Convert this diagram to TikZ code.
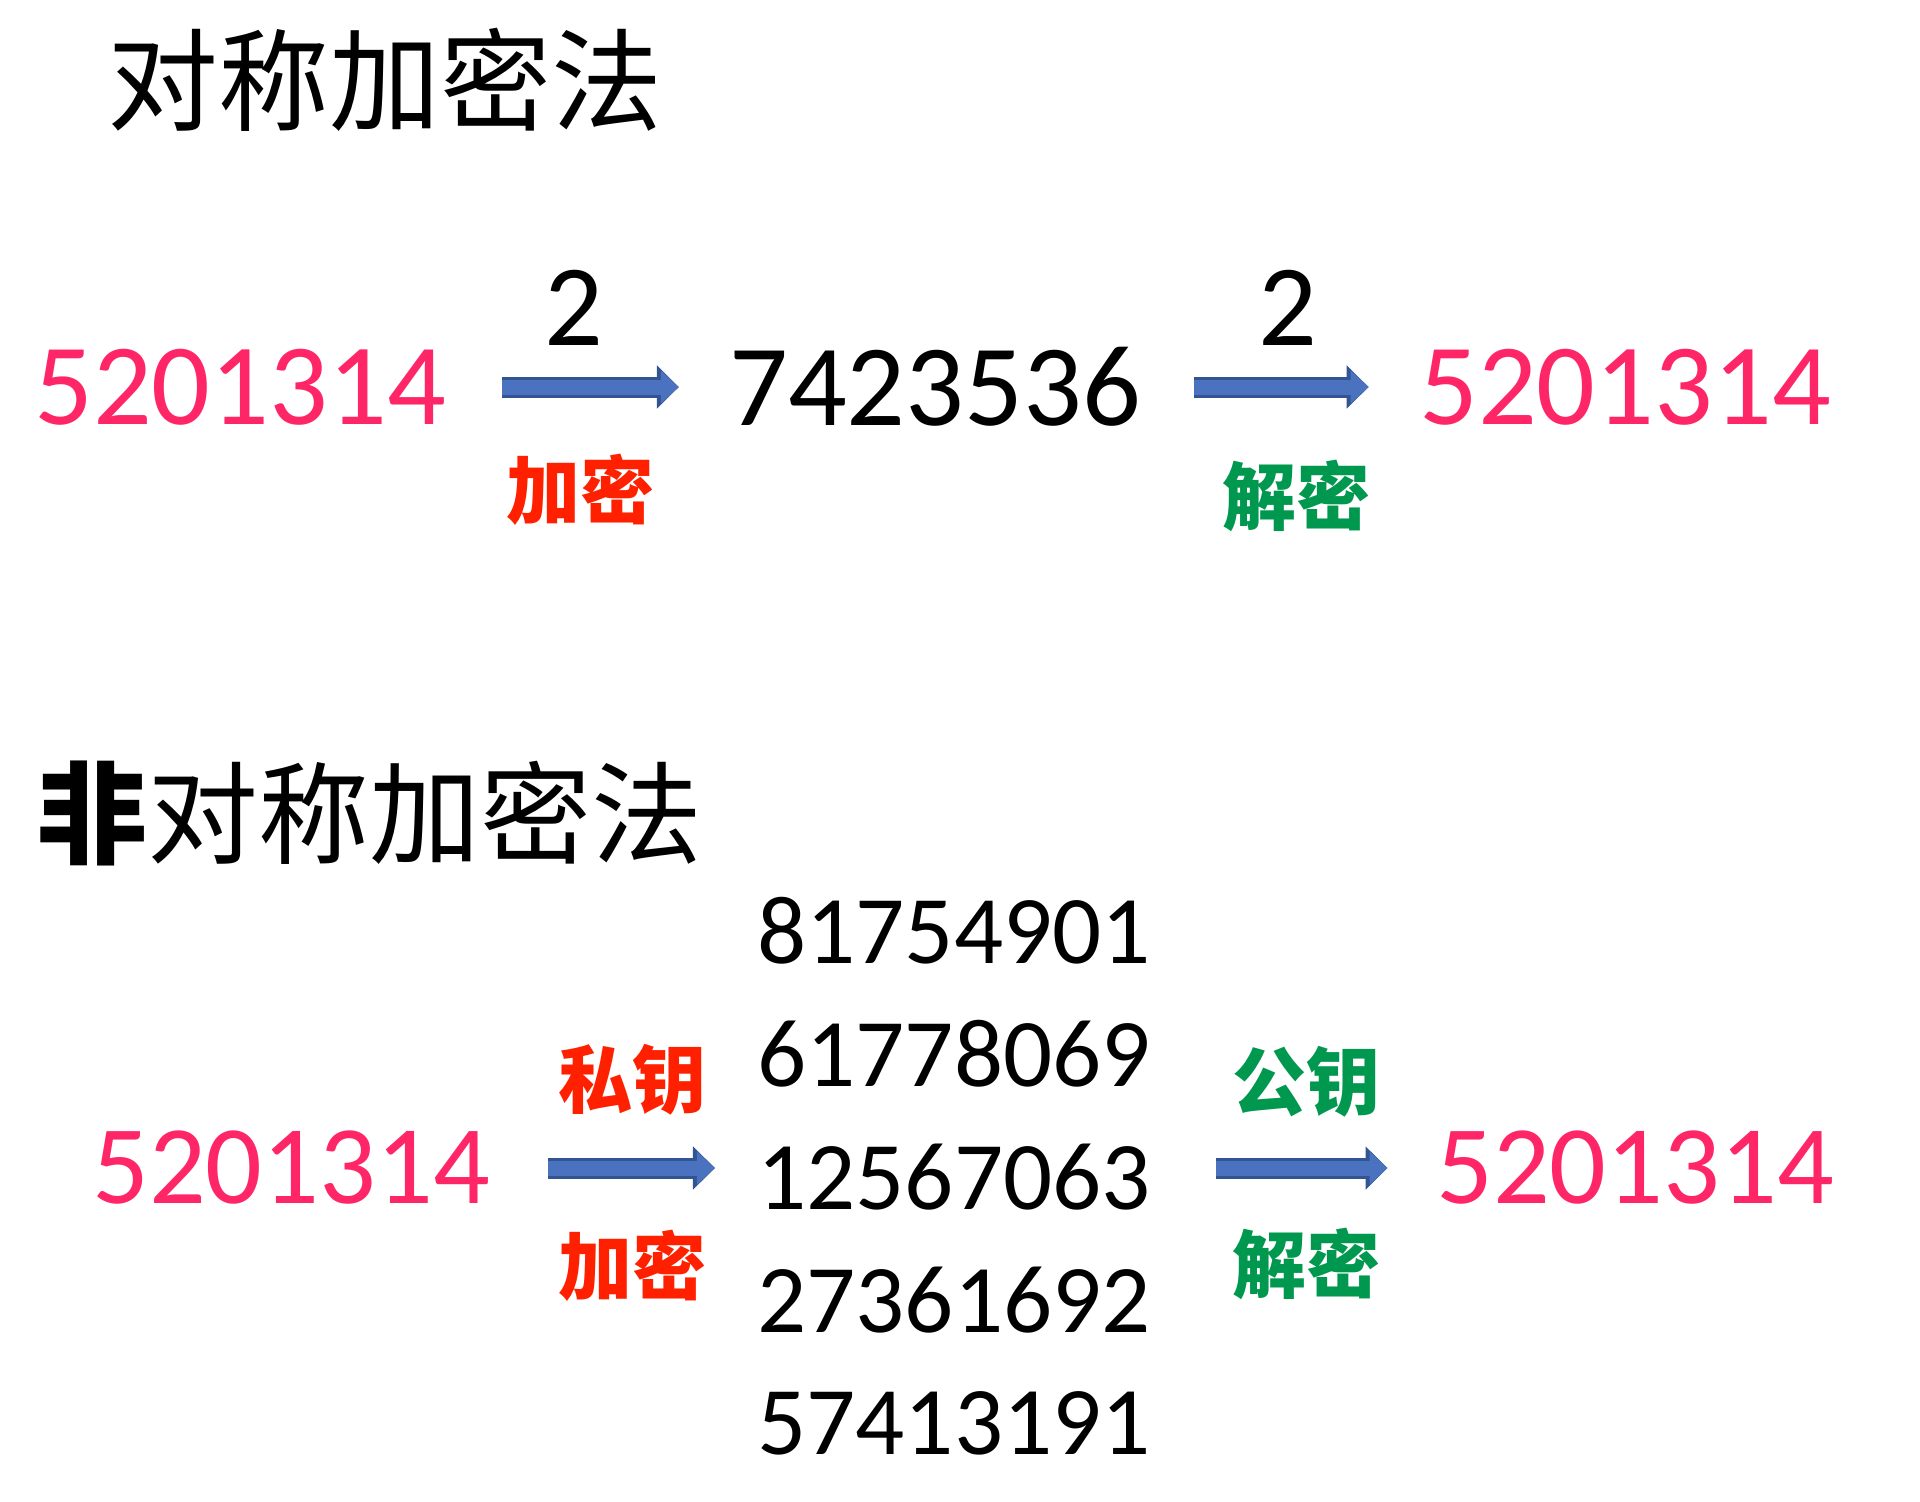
\documentclass[tikz,border=0pt]{standalone}
\usepackage{fontspec}
\setmainfont{Carlito}
\newfontfamily\cjk{Noto Sans CJK SC}
\usetikzlibrary{arrows.meta, positioning}
\definecolor{plainpink}{RGB}{255, 38, 104}
\definecolor{encred}{RGB}{255, 32, 0}
\definecolor{decgreen}{RGB}{0, 152, 78}
\definecolor{arrowblue}{RGB}{74, 114, 190}
\definecolor{arrowedge}{RGB}{50, 84, 146}

\begin{document}
\begin{tikzpicture}[x=0.5pt, y=-0.5pt,
  numtext/.style={inner sep=0pt, font=\fontsize{58}{58}\selectfont},
  listtext/.style={inner sep=0pt, font=\fontsize{48.5}{48.5}\selectfont},
  keytext/.style={inner sep=0pt, font=\cjk\bfseries\fontsize{37}{37}\selectfont},
  titletext/.style={inner sep=0pt, font=\cjk\fontsize{55.5}{55.5}\selectfont},
  blockarrow/.style={draw=arrowblue, line width=7.5pt, -{Triangle[length=9pt, width=16pt]},
    preaction={draw=arrowedge, line width=10.5pt, -{Triangle[length=11pt, width=21pt]}}}
]
  \useasboundingbox (0,0) rectangle (1920,1501);

  % Symmetric
  \node[titletext] (symtitle) at (385, 80) {对称加密法};
  \node[numtext, plainpink] (plain1) at (240, 387) {5201314};
  \node[numtext] (cipher1) at (935, 387) {7423536};
  \node[numtext, plainpink] (back1) at (1625, 387) {5201314};
  \node[numtext] (key1) at (574, 308) {2};
  \node[numtext] (key2) at (1288, 308) {2};
  \node[keytext, encred] (enc1) at (580, 490) {加密};
  \node[keytext, decgreen] (dec1) at (1296, 496) {解密};
  \draw[blockarrow, shorten <=28pt, shorten >=25pt] (plain1) -- (cipher1);
  \draw[blockarrow, shorten <=26.6pt, shorten >=25.1pt] (cipher1) -- (back1);

  % Asymmetric
  \node[titletext] (asymtitle) at (369, 813) {{\bfseries 非}对称加密法};
  \node[numtext, font=\fontsize{56}{56}\selectfont, plainpink] (plain2) at (291, 1168) {5201314};
  \node[listtext] (cipher2a) at (954, 931) {81754901};
  \node[listtext] (cipher2b) at (954, 1054) {61778069};
  \node[listtext] (cipher2c) at (954, 1177) {12567063};
  \node[listtext] (cipher2d) at (954, 1300) {27361692};
  \node[listtext] (cipher2e) at (954, 1423) {57413191};
  \node[numtext, font=\fontsize{56}{56}\selectfont, plainpink] (back2) at (1635, 1168) {5201314};
  \node[keytext, encred] (privkey) at (632, 1080) {私钥};
  \node[keytext, encred] (enc2) at (632, 1266) {加密};
  \node[keytext, decgreen] (pubkey) at (1306, 1082) {公钥};
  \node[keytext, decgreen] (dec2) at (1306, 1264) {解密};
  \draw[blockarrow, shorten <=29.2pt, shorten >=21pt] (plain2) -- (plain2 -| cipher2c.west);
  \draw[blockarrow, shorten <=32.5pt, shorten >=24.2pt] (cipher2c.east |- plain2) -- (back2);
\end{tikzpicture}
\end{document}
